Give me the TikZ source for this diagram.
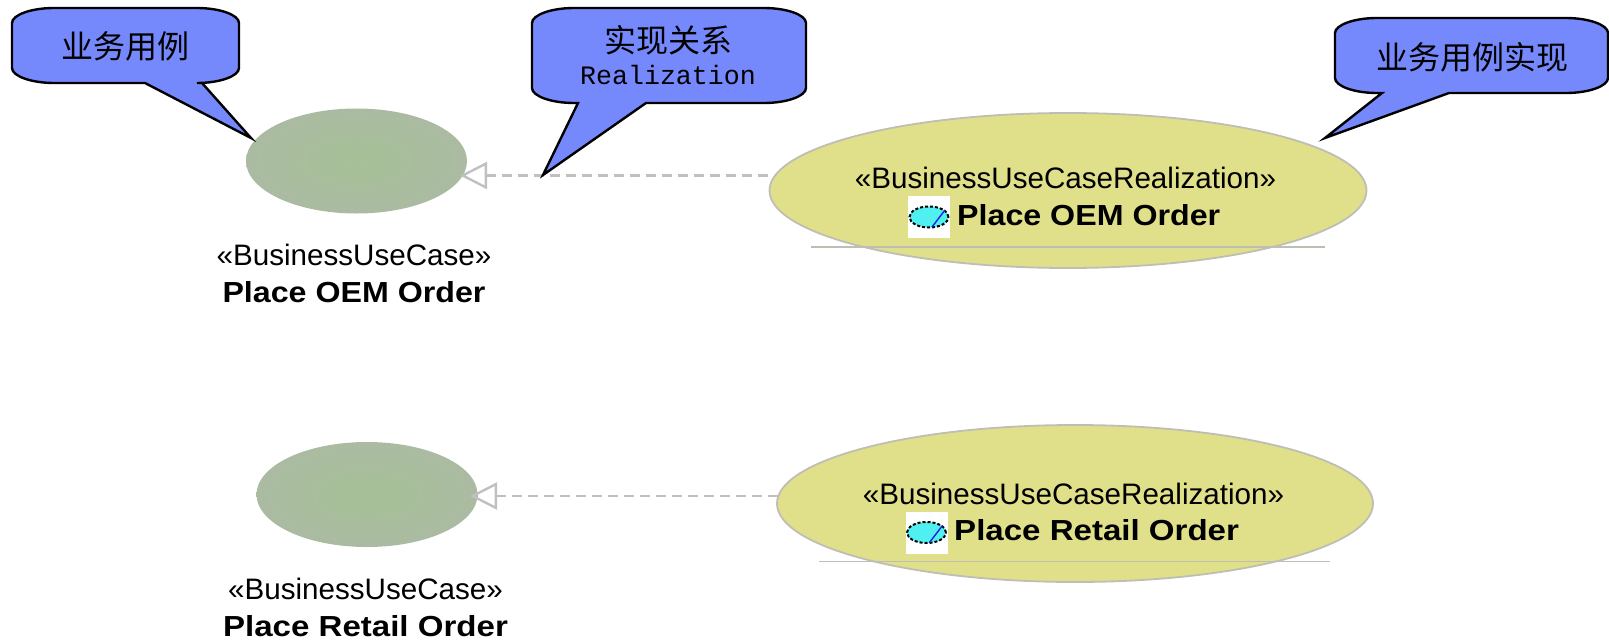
\documentclass[tikz,border=0pt]{standalone}
\usepackage{fontspec}
\setmainfont{Liberation Sans}
\newfontfamily\cjk{Noto Sans CJK SC}
\newfontfamily\monof{Liberation Mono}
\newfontfamily\namef[FakeStretch=1.11]{Liberation Sans}
\newfontfamily\nameg[FakeStretch=1.14]{Liberation Sans}
\usetikzlibrary{shapes.geometric,arrows.meta}
\definecolor{calloutblue}{HTML}{7689FC}
\definecolor{ucyellow}{HTML}{E0E08A}
\definecolor{uclinegray}{HTML}{BEBEB4}
\definecolor{dashgray}{HTML}{C0C0C0}
\definecolor{ucinner}{HTML}{A5C096}
\definecolor{ucouter}{HTML}{ABBBA2}
\definecolor{iconcyan}{HTML}{50F0F0}
\definecolor{iconblue}{HTML}{2020E0}
\tikzset{
  x=1pt,y=-1pt,
  calloutshape/.style={draw=black,line width=2.4pt,fill=calloutblue,line join=miter},
  callouttext/.style={inner sep=0pt,font=\cjk\fontsize{32}{36}\selectfont,align=center},
  bizuc/.style={ellipse,inner sep=0pt,inner color=ucinner,outer color=ucouter},
  realuc/.style={ellipse,inner sep=0pt,draw=uclinegray,line width=1.8pt,fill=ucyellow},
  realline/.style={draw=uclinegray,line width=1.8pt},
  realizes/.style={draw=dashgray,line width=2.2pt,dash pattern=on 10pt off 6pt,
    {Triangle[open,length=27pt,width=27pt,line width=2.4pt]}-},
  stereo/.style={inner sep=0pt,font=\fontsize{29.6}{34}\selectfont},
  ucname/.style={inner sep=0pt,font=\namef\bfseries\fontsize{29}{34}\selectfont},
  ucnamer/.style={inner sep=0pt,font=\nameg\bfseries\fontsize{29}{34}\selectfont},
  iconbox/.style={fill=white,inner sep=0pt,minimum width=42pt,minimum height=42pt},
  iconoval/.style={ellipse,draw=black,fill=iconcyan,densely dashed,line width=2pt,
    inner sep=0pt,minimum width=39pt,minimum height=21pt},
  iconline/.style={draw=iconblue,line width=1.4pt},
}
% x1 y1 x2 y2 tailL tipx tipy tailR
\newcommand{\calloutbody}[8]{%
  \path[calloutshape]
    ({#1+42},#2) -- ({#3-42},#2)
    .. controls ({#3-19},#2) and (#3,{#2+7}) .. (#3,{#2+15})
    -- (#3,{#4-15})
    .. controls (#3,{#4-7}) and ({#3-19},#4) .. ({#3-42},#4)
    -- (#8,#4) -- (#6,#7) -- (#5,#4)
    -- ({#1+42},#4)
    .. controls ({#1+19},#4) and (#1,{#4-7}) .. (#1,{#4-15})
    -- (#1,{#2+15})
    .. controls (#1,{#2+7}) and ({#1+19},#2) .. ({#1+42},#2) -- cycle;
}
\begin{document}
\begin{tikzpicture}
\useasboundingbox (0,0) rectangle (1609,640);

% connectors first
\coordinate (tip1) at (460,175.5);
\coordinate (start1) at (771,175.5);
\coordinate (tip2) at (470,496);
\coordinate (start2) at (778,496);

% business use cases
\node[bizuc,minimum width=221pt,minimum height=105pt] (uc1) at (356.5,161) {};
\node[bizuc,minimum width=221pt,minimum height=105pt] (uc2) at (367,494.5) {};
\draw[realizes] (tip1) -- (start1);
\draw[realizes] (tip2) -- (start2);
\node[stereo] (uc1s) at (354,255) {«BusinessUseCase»};
\node[ucname] (uc1n) at (354,292) {Place OEM Order};
\node[stereo] (uc2s) at (365.5,589) {«BusinessUseCase»};
\node[ucnamer] (uc2n) at (365.5,626) {Place Retail Order};

% realizations
\node[realuc,minimum width=597pt,minimum height=155pt] (r1) at (1068,190.5) {};
\node[realuc,minimum width=596pt,minimum height=157pt] (r2) at (1075,503.5) {};
\coordinate (r1a) at (811,247); \coordinate (r1b) at (1325,247);
\coordinate (r2a) at (819,561.5); \coordinate (r2b) at (1330,561.5);
\draw[realline] (r1a) -- (r1b);
\draw[realline] (r2a) -- (r2b);

\node[stereo] (r1s) at (1065.5,178) {«BusinessUseCaseRealization»};
\node[stereo] (r2s) at (1073.5,494) {«BusinessUseCaseRealization»};

\node[iconbox] (ib1) at (929,217) {};
\node[iconoval] (io1) at (ib1) {};
\coordinate (il1a) at (932,227); \coordinate (il1b) at (945,210);
\draw[iconline] (il1a) -- (il1b);
\node[ucname,anchor=west] (r1n) at (957,215) {Place OEM Order};

\node[iconbox] (ib2) at (926.5,532.5) {};
\node[iconoval] (io2) at (ib2) {};
\coordinate (il2a) at (929.5,542.5); \coordinate (il2b) at (942.5,525.5);
\draw[iconline] (il2a) -- (il2b);
\node[ucnamer,anchor=west] (r2n) at (954,530.5) {Place Retail Order};

% callouts
\calloutbody{12}{8}{239}{83}{145}{251}{138}{202}
\node[callouttext] (c1) at (125,46) {业务用例};
\calloutbody{532}{8}{806}{103}{578}{543}{175}{646}
\node[callouttext] (c2) at (668,40) {实现关系};
\node[inner sep=0pt,font=\monof\fontsize{26.6}{30}\selectfont] (c2b) at (668,74.5) {Realization};
\calloutbody{1335}{18}{1608}{93}{1382}{1325}{138}{1449}
\node[callouttext] (c3) at (1472,57) {业务用例实现};
\end{tikzpicture}
\end{document}
